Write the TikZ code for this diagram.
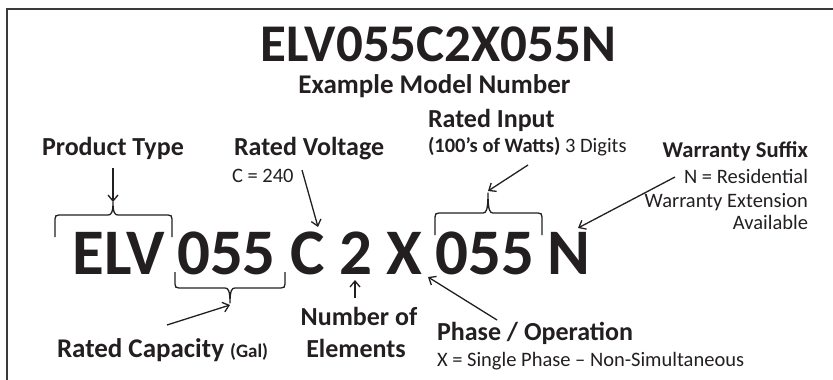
\documentclass[tikz,border=0pt]{standalone}
\usepackage{fontspec}
\setmainfont{Carlito}
\usetikzlibrary{arrows.meta}
\definecolor{ink}{HTML}{231F20}
\definecolor{framegray}{HTML}{3A3A3A}
\newcommand{\fsz}[1]{\fontsize{#1}{#1}\selectfont}
\begin{document}
\begin{tikzpicture}[x=1pt,y=-1pt,
  every node/.style={inner sep=0pt,outer sep=0pt,text=ink},
  bigcode/.style={font=\fsz{65}\bfseries,anchor=base},
  lbl/.style={font=\fsz{26}\bfseries},
  sub/.style={font=\fsz{20.5}},
  pointer/.style={draw=ink,line width=1.3pt,-{Straight Barb[length=6pt,width=10pt,line width=1.3pt]}},
  bracepath/.style={draw=ink,line width=1.3pt,line join=round}]
\useasboundingbox (0,0) rectangle (833,380);
% frame
\draw[framegray,line width=1.8pt] (7,380) -- (7,9) -- (833,9);
% title
\node[font=\fsz{53}\bfseries,anchor=base] (title) at (438.5,61) {ELV055C2X055N};
\node[font=\fsz{27}\bfseries,anchor=base] (subtitle) at (434.5,93) {Example Model Number};
% big code
\node[bigcode] (elv) at (119,274) {ELV};
\node[bigcode] (cap) at (226.5,274) {055};
\node[bigcode] (cv) at (307.5,274) {C};
\node[bigcode] (two) at (356,274) {2};
\node[bigcode] (xx) at (404,274) {X};
\node[bigcode] (inp) at (485,274) {055};
\node[bigcode] (nn) at (568.5,274) {N};
% labels
\node[lbl,anchor=base west] (ptype) at (42,155) {Product Type};
\node[lbl,anchor=base west] (rvolt) at (234,155) {Rated Voltage};
\node[sub,anchor=base west] (c240) at (232,182) {C = 240};
\node[lbl,anchor=base west] (rinput) at (428,127) {Rated Input};
\node[anchor=base west,font=\fsz{20.5}] (watts) at (428,152) {\bfseries (100’s of Watts)\mdseries\ 3 Digits};
\node[font=\fsz{22.6}\bfseries,anchor=base east] (ws1) at (808,157) {Warranty Suffix};
\node[sub,anchor=base east] (ws2) at (808,183) {N = Residential};
\node[sub,anchor=base east] (ws3) at (808,207) {Warranty Extension};
\node[sub,anchor=base east] (ws4) at (808,229) {Available};
\node[anchor=base west,font=\fsz{27}\bfseries] (rcap) at (57,357) {Rated Capacity \fsz{19}(Gal)};
\node[lbl,anchor=base] (numof) at (359,325) {Number of};
\node[lbl,anchor=base] (elem) at (356,357) {Elements};
\node[lbl,anchor=base west] (phase) at (437,340) {Phase / Operation};
\node[sub,anchor=base west] (xsingle) at (437,366) {X = Single Phase – Non-Simultaneous};
% braces
\draw[bracepath] (55,237) -- (55,219) .. controls (55,216) and (56,215) .. (59,215)
  -- (108,215) .. controls (111,215) and (113,213) .. (113,202)
  .. controls (113,213) and (115,215) .. (118,215) -- (168,215)
  .. controls (171,215) and (172,216) .. (172,219) -- (172,237);
\coordinate (ptcusp) at (113,202);
\draw[bracepath] (175,272) -- (175,284) .. controls (175,287) and (176,288) .. (179,288)
  -- (225,288) .. controls (228,288) and (230,290) .. (230,303)
  .. controls (230,290) and (232,288) .. (235,288) -- (281,288)
  .. controls (284,288) and (285,287) .. (285,284) -- (285,272);
\coordinate (capcusp) at (230,305);
\draw[bracepath] (435,235) -- (435,217) .. controls (435,214) and (436,213) .. (439,213)
  -- (483,213) .. controls (486,213) and (488,211) .. (488,193)
  .. controls (488,211) and (490,213) .. (493,213) -- (538,213)
  .. controls (541,213) and (542,214) .. (542,217) -- (542,235);
\coordinate (inpcusp) at (488,191);
% arrow coordinates
\coordinate (pt-s) at (113,168);
\coordinate (rv-s) at (302,170);
\coordinate (rv-e) at (318,227);
\coordinate (ri-s) at (528,165);
\coordinate (ws-s) at (675,177);
\coordinate (ws-e) at (578,228);
\coordinate (rc-s) at (167,325);
\coordinate (ne-s) at (355,298);
\coordinate (ne-e) at (355,280);
\coordinate (ph-s) at (497,320);
\coordinate (ph-e) at (428,277);
% arrows
\draw[pointer] (pt-s) -- (ptcusp);
\draw[pointer] (rv-s) -- (rv-e);
\draw[pointer] (ri-s) -- (inpcusp);
\draw[pointer] (ws-s) -- (ws-e);
\draw[pointer] (rc-s) -- (capcusp);
\draw[pointer] (ne-s) -- (ne-e);
\draw[pointer] (ph-s) -- (ph-e);
\end{tikzpicture}
\end{document}
